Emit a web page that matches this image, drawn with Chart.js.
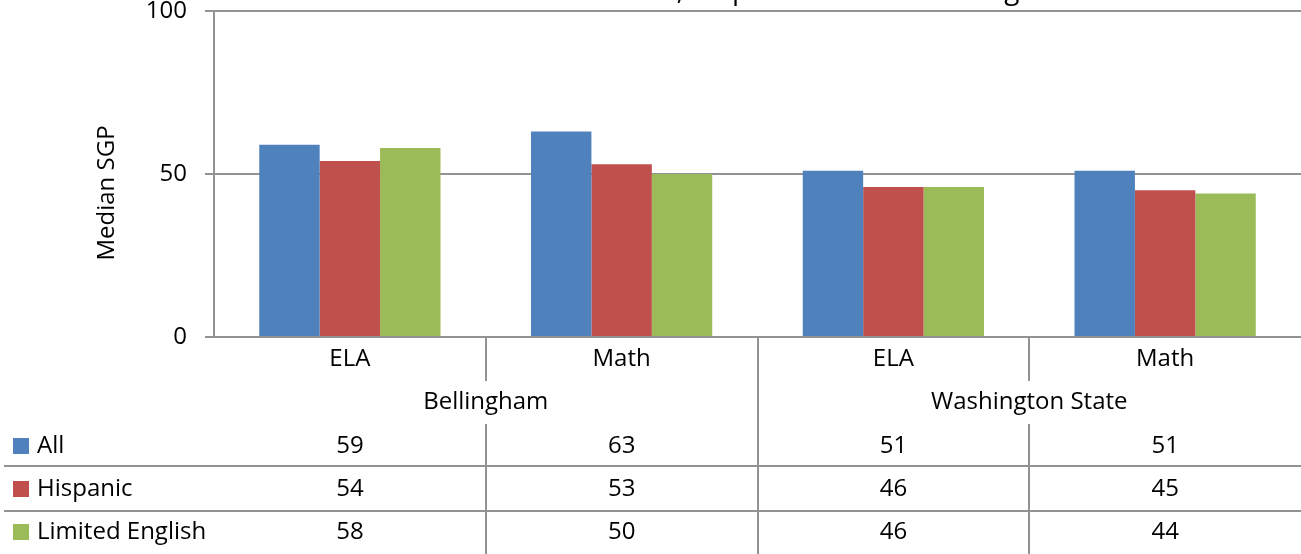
<!DOCTYPE html>
<html>
<head>
<meta charset="utf-8">
<script src="https://cdn.jsdelivr.net/npm/chart.js@4.4.1/dist/chart.umd.min.js"></script>
<style>
  html, body { margin: 0; padding: 0; background: #fff; }
  #wrap { width: 1301px; height: 554px; position: relative; }
</style>
</head>
<body>
<div id="wrap"><canvas id="chart"></canvas></div>
<script>
// data
const subjects = ["ELA", "Math", "ELA", "Math"];
const places = ["Bellingham", "Washington State"];
const seriesNames = ["All", "Hispanic", "Limited English"];
const allStudents = [59, 63, 51, 51];
const hispanic = [54, 53, 46, 45];
const limitedEnglish = [58, 50, 46, 44];
const yTicks = [0, 50, 100];
const chartTitle = "Median Student Growth, Hispanic and Limited English";

const FONT = "'Open Sans', sans-serif";
const FSIZE = 24;
const GRID = "#929292";
const LINE_W = 2;
const colors = ["#4F81BD", "#C0504D", "#9BBB59"];
const seriesValues = [allStudents, hispanic, limitedEnglish];

// title sits mostly above the picture, only descenders show
const titlePlugin = {
    id: "cutTitle",
    afterDraw(chart) {
        const ctx = chart.ctx;
        ctx.save();
        ctx.font = "28px " + FONT;
        ctx.fillStyle = "#000";
        ctx.textBaseline = "alphabetic";
        ctx.textAlign = "left";
        const pre = ctx.measureText("Median Student Growth, His").width;
        ctx.fillText(chartTitle, 732 - pre, -1);
        ctx.restore();
    }
};

// y title + the data table under the axis
const tablePlugin = {
    id: "dataTable",
    afterDraw(chart) {
        const ctx = chart.ctx;
        const xs = chart.scales.x, ys = chart.scales.y;
        const base = ys.bottom;
        const n = subjects.length;
        const bounds = [xs.left];
        for (let i = 0; i < n - 1; i++) {
            bounds.push((xs.getPixelForValue(i) + xs.getPixelForValue(i + 1)) / 2);
        }
        bounds.push(xs.right);

        ctx.save();
        ctx.strokeStyle = GRID;
        ctx.lineWidth = LINE_W;
        function line(x1, y1, x2, y2) {
            ctx.beginPath();
            ctx.moveTo(Math.round(x1), Math.round(y1));
            ctx.lineTo(Math.round(x2), Math.round(y2));
            ctx.stroke();
        }
        // category ticks and table verticals
        line(bounds[1], base, bounds[1], base + 44);
        line(bounds[3], base, bounds[3], base + 44);
        line(bounds[2], base, bounds[2], chart.height);
        line(bounds[1], base + 87, bounds[1], chart.height);
        line(bounds[3], base + 87, bounds[3], chart.height);
        // row separators
        line(4, base + 129, xs.right, base + 129);
        line(4, base + 174, xs.right, base + 174);

        ctx.font = FSIZE + "px " + FONT;
        ctx.fillStyle = "#000";
        ctx.textAlign = "center";
        ctx.textBaseline = "middle";
        for (let i = 0; i < n; i++) {
            const cx = xs.getPixelForValue(i);
            ctx.fillText(subjects[i], cx, base + 22);
            for (let s = 0; s < seriesValues.length; s++) {
                ctx.fillText(String(seriesValues[s][i]), cx, base + 109 + s * 43);
            }
        }
        ctx.fillText(places[0], (bounds[0] + bounds[2]) / 2, base + 65);
        ctx.fillText(places[1], (bounds[2] + bounds[4]) / 2, base + 65);

        // legend keys
        ctx.textAlign = "left";
        for (let s = 0; s < seriesNames.length; s++) {
            const cy = base + 109 + s * 43;
            ctx.fillStyle = colors[s];
            ctx.fillRect(13, cy - 8, 16, 16);
            ctx.fillStyle = "#000";
            ctx.fillText(seriesNames[s], 37, cy);
        }

        // y axis title
        ctx.translate(107, 193);
        ctx.rotate(-Math.PI / 2);
        ctx.textAlign = "center";
        ctx.fillText("Median SGP", 0, 0);
        ctx.restore();
    }
};

const ctx = document.getElementById("chart");
new Chart(ctx, {
    type: "bar",
    data: {
        labels: subjects,
        datasets: seriesNames.map(function (name, s) {
            return {
                label: name,
                data: seriesValues[s],
                backgroundColor: colors[s],
                borderWidth: 0,
                categoryPercentage: 0.667,
                barPercentage: 1.0
            };
        })
    },
    options: {
        responsive: true,
        maintainAspectRatio: false,
        animation: false,
        layout: { padding: { top: 11, right: 0, bottom: 0, left: 0 } },
        plugins: {
            legend: { display: false },
            title: { display: false },
            tooltip: { enabled: false }
        },
        scales: {
            x: {
                grid: { display: false },
                border: { display: true, color: GRID, width: LINE_W },
                ticks: { display: false },
                afterFit(scale) {
                    scale.height = 217;
                    scale.paddingLeft = 0;
                    scale.paddingRight = 0;
                }
            },
            y: {
                min: 0,
                max: 100,
                afterBuildTicks(scale) {
                    scale.ticks = yTicks.map(function (v) { return { value: v }; });
                },
                grid: { color: GRID, lineWidth: LINE_W, tickLength: 9 },
                border: { display: true, color: GRID, width: LINE_W },
                ticks: {
                    padding: 18,
                    color: "#000",
                    font: { family: FONT, size: FSIZE }
                },
                afterFit(scale) {
                    scale.width = 214;
                    scale.paddingTop = 0;
                    scale.paddingBottom = 0;
                }
            }
        }
    },
    plugins: [titlePlugin, tablePlugin]
});
</script>
</body>
</html>
